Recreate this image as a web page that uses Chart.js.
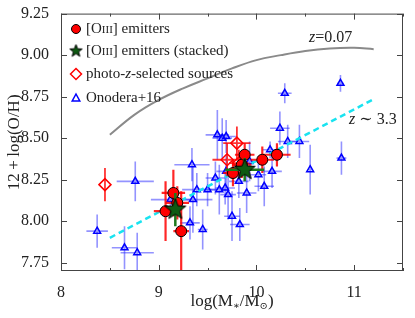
<!DOCTYPE html>
<html>
<head>
<meta charset="utf-8">
<script src="https://cdn.jsdelivr.net/npm/chart.js@4.4.1/dist/chart.umd.min.js"></script>
<style>
  html, body { margin: 0; padding: 0; background: #fff; }
  canvas { display: block; }
</style>
</head>
<body>
<canvas id="mzr" width="415" height="318"></canvas>
<script>
// [OIII] emitters (individual)
const oiiiX = [9.07, 9.15, 9.19, 9.23, 9.76, 9.85, 9.88, 10.06, 10.21];
const oiiiY = [8.06, 8.17, 8.11, 7.94, 8.29, 8.34, 8.40, 8.37, 8.40];
const oiiiXErr = [0.12, 0.12, 0.12, 0.08, 0.10, 0.10, 0.10, 0.12, 0.14];
const oiiiYErr = [0.18, 0.14, 0.10, 0.24, 0.08, 0.08, 0.07, 0.08, 0.07];

// [OIII] emitters (stacked)
const stackX = [9.17, 9.88];
const stackY = [8.07, 8.31];
const stackXErr = [0.03, 0.20];
const stackYErr = [0.10, 0.07];

// photo-z selected sources
const photoX = [8.45, 9.70, 9.80, 9.82];
const photoY = [8.22, 8.37, 8.47, 8.35];
const photoXErr = [0.00, 0.15, 0.14, 0.10];
const photoYErr = [0.10, 0.10, 0.10, 0.08];

// Onodera+16
const onoX = [8.37, 8.65, 8.78, 8.76, 9.12, 9.34, 9.35, 9.39, 9.32, 9.45, 9.50, 9.58,
              9.60, 9.65, 9.69, 9.62, 9.68, 9.71, 9.69, 9.75, 9.82, 9.83, 9.90, 9.93,
              10.02, 10.08, 10.14, 10.16, 10.24, 10.29, 10.32, 10.44, 10.55, 10.86, 10.87];
const onoY = [7.94, 7.84, 7.81, 8.24, 8.13, 8.34, 8.13, 8.19, 7.99, 7.95, 8.19, 8.26,
              8.52, 8.50, 8.51, 8.19, 8.20, 8.16, 8.30, 8.03, 8.24, 7.98, 8.17, 8.36,
              8.28, 8.21, 8.43, 8.30, 8.56, 8.77, 8.48, 8.48, 8.31, 8.83, 8.38];
const onoXErr = [0.11, 0.13, 0.17, 0.19, 0.20, 0.18, 0.20, 0.15, 0.10, 0.05, 0.10, 0.10,
                 0.12, 0.10, 0.10, 0.10, 0.10, 0.08, 0.10, 0.08, 0.10, 0.10, 0.10, 0.10,
                 0.08, 0.10, 0.08, 0.10, 0.10, 0.07, 0.10, 0.10, 0.02, 0.03, 0.05];
const onoYErr = [0.10, 0.13, 0.12, 0.12, 0.05, 0.10, 0.20, 0.10, 0.10, 0.12, 0.10, 0.10,
                 0.15, 0.12, 0.10, 0.15, 0.10, 0.15, 0.10, 0.15, 0.10, 0.10, 0.12, 0.12,
                 0.10, 0.12, 0.05, 0.10, 0.10, 0.06, 0.10, 0.10, 0.15, 0.05, 0.10];

// MZ relation curves
const localX = [8.5, 8.75, 9.0, 9.25, 9.5, 9.75, 10.0, 10.25, 10.5, 10.75, 11.0, 11.2];
const localY = [8.52, 8.64, 8.73, 8.80, 8.86, 8.92, 8.97, 9.00, 9.025, 9.04, 9.044, 9.036];
const highzX = [8.5, 11.2];
const highzY = [7.90, 8.735];

const xTicks = [8, 9, 10, 11];
const xMinor = [8.5, 9.5, 10.5, 11.5];
const yTicks = [7.75, 8.00, 8.25, 8.50, 8.75, 9.00, 9.25];

const serif = "'Liberation Serif', 'DejaVu Serif', serif";
const pts = (xs, ys) => xs.map((v, i) => ({ x: v, y: ys[i] }));

function makeStar(r, fill) {
  const c = document.createElement('canvas');
  const s = Math.ceil(r * 2 + 4);
  c.width = s; c.height = s;
  const g = c.getContext('2d');
  g.beginPath();
  for (let k = 0; k < 10; k++) {
    const rr = k % 2 === 0 ? r : r * 0.42;
    const a = -Math.PI / 2 + k * Math.PI / 5;
    g.lineTo(s / 2 + rr * Math.cos(a), s / 2 + rr * Math.sin(a));
  }
  g.closePath();
  g.fillStyle = fill;
  g.fill();
  g.lineWidth = 1;
  g.strokeStyle = '#000';
  g.stroke();
  return c;
}
const bigStar = makeStar(11, '#0e5a12');
const smallStar = makeStar(6.5, '#0e5a12');

const errorBars = {
  id: 'errorBars',
  beforeDatasetDraw(chart, args) {
    const ds = chart.data.datasets[args.index];
    if (!ds.errX) return;
    const { ctx, chartArea: a, scales: { x, y } } = chart;
    ctx.save();
    ctx.beginPath();
    ctx.rect(a.left, a.top, a.right - a.left, a.bottom - a.top);
    ctx.clip();
    ctx.strokeStyle = ds.errColor;
    ctx.lineWidth = ds.errWidth;
    ds.data.forEach((p, i) => {
      const px = x.getPixelForValue(p.x), py = y.getPixelForValue(p.y);
      ctx.beginPath();
      if (ds.errX[i] > 0) {
        ctx.moveTo(x.getPixelForValue(p.x - ds.errX[i]), py);
        ctx.lineTo(x.getPixelForValue(p.x + ds.errX[i]), py);
      }
      ctx.moveTo(px, y.getPixelForValue(p.y - ds.errY[i]));
      ctx.lineTo(px, y.getPixelForValue(p.y + ds.errY[i]));
      ctx.stroke();
    });
    ctx.restore();
  }
};

function drawRuns(ctx, runs, x, y) {
  let cx = x;
  runs.forEach(r => {
    ctx.font = r.font;
    ctx.fillText(r.t, cx, y + (r.dy || 0));
    cx += ctx.measureText(r.t).width;
  });
}
function runsWidth(ctx, runs) {
  return runs.reduce((w, r) => { ctx.font = r.font; return w + ctx.measureText(r.t).width; }, 0);
}

const decor = {
  id: 'decor',
  afterDraw(chart) {
    const { ctx, chartArea: a, scales: { x, y } } = chart;
    ctx.save();
    // frame and inward ticks
    ctx.strokeStyle = '#444';
    ctx.lineWidth = 1;
    ctx.strokeRect(a.left + 0.5, a.top + 0.5, a.right - a.left - 1, a.bottom - a.top - 1);
    ctx.beginPath();
    xTicks.forEach(v => {
      const px = Math.round(x.getPixelForValue(v)) + 0.5;
      ctx.moveTo(px, a.bottom); ctx.lineTo(px, a.bottom - 6);
      ctx.moveTo(px, a.top); ctx.lineTo(px, a.top + 6);
    });
    xMinor.forEach(v => {
      const px = Math.round(x.getPixelForValue(v)) + 0.5;
      ctx.moveTo(px, a.bottom); ctx.lineTo(px, a.bottom - 3);
      ctx.moveTo(px, a.top); ctx.lineTo(px, a.top + 3);
    });
    yTicks.forEach(v => {
      const py = Math.round(y.getPixelForValue(v)) + 0.5;
      ctx.moveTo(a.left, py); ctx.lineTo(a.left + 6, py);
      ctx.moveTo(a.right, py); ctx.lineTo(a.right - 6, py);
    });
    ctx.stroke();

    ctx.fillStyle = '#222';
    ctx.textBaseline = 'middle';
    ctx.textAlign = 'left';

    // legend
    const lx = 76, tx = 86;
    const rows = [29, 51, 74, 98];
    ctx.beginPath();
    ctx.arc(lx, rows[0], 4.5, 0, Math.PI * 2);
    ctx.fillStyle = '#ff0000'; ctx.fill();
    ctx.strokeStyle = '#000'; ctx.lineWidth = 1; ctx.stroke();
    ctx.drawImage(smallStar, lx - smallStar.width / 2, rows[1] - smallStar.height / 2);
    ctx.beginPath();
    ctx.moveTo(lx, rows[2] - 5.5); ctx.lineTo(lx + 5.5, rows[2]);
    ctx.lineTo(lx, rows[2] + 5.5); ctx.lineTo(lx - 5.5, rows[2]); ctx.closePath();
    ctx.strokeStyle = '#ff0000'; ctx.lineWidth = 1.5; ctx.stroke();
    ctx.beginPath();
    ctx.moveTo(lx, rows[3] - 4); ctx.lineTo(lx + 3.8, rows[3] + 3); ctx.lineTo(lx - 3.8, rows[3] + 3); ctx.closePath();
    ctx.strokeStyle = '#0000ff'; ctx.lineWidth = 1.5; ctx.stroke();

    ctx.fillStyle = '#222';
    const f15 = `15px ${serif}`, f11 = `11px ${serif}`, i15 = `italic 15px ${serif}`;
    drawRuns(ctx, [{ t: '[O', font: f15 }, { t: 'III', font: f11, dy: 1 }, { t: '] emitters', font: f15 }], tx, rows[0]);
    drawRuns(ctx, [{ t: '[O', font: f15 }, { t: 'III', font: f11, dy: 1 }, { t: '] emitters (stacked)', font: f15 }], tx, rows[1]);
    drawRuns(ctx, [{ t: 'photo-', font: f15 }, { t: 'z', font: i15 }, { t: '-selected sources', font: f15 }], tx, rows[2]);
    drawRuns(ctx, [{ t: 'Onodera+16', font: f15 }], tx, rows[3]);

    // curve labels
    const f16 = `16px ${serif}`, i16 = `italic 16px ${serif}`;
    drawRuns(ctx, [{ t: 'z', font: i16 }, { t: '=0.07', font: f16 }], 309, 38);
    drawRuns(ctx, [{ t: 'z', font: i16 }, { t: ' \u223C 3.3', font: f16 }], 349, 120);

    // x title with subscripts
    const f17 = `17px ${serif}`, f10 = `10px ${serif}`;
    const xt = [{ t: 'log(M', font: f17 }, { t: '\u2217', font: f10, dy: 4 }, { t: '/M', font: f17 }, { t: '\u2299', font: f10, dy: 4 }, { t: ')', font: f17 }];
    const w = runsWidth(ctx, xt);
    drawRuns(ctx, xt, (a.left + a.right) / 2 - w / 2, 302);

    // y title
    ctx.translate(15, (a.top + a.bottom) / 2);
    ctx.rotate(-Math.PI / 2);
    ctx.textAlign = 'center';
    ctx.font = f17;
    ctx.fillText('12\u2009+\u2009log(O/H)', 0, 0);
    ctx.restore();
  }
};

new Chart(document.getElementById('mzr'), {
  type: 'scatter',
  data: {
    datasets: [
      {
        label: '[OIII] emitters (stacked)', data: pts(stackX, stackY),
        errX: stackXErr, errY: stackYErr, errColor: '#1d7a1d', errWidth: 2.5,
        pointStyle: bigStar, pointRadius: 11
      },
      {
        label: '[OIII] emitters', data: pts(oiiiX, oiiiY),
        errX: oiiiXErr, errY: oiiiYErr, errColor: 'rgba(255,0,0,0.85)', errWidth: 2.2,
        pointStyle: 'circle', pointRadius: 5.5, backgroundColor: '#ff0000',
        borderColor: '#000', borderWidth: 1
      },
      {
        label: 'photo-z-selected sources', data: pts(photoX, photoY),
        errX: photoXErr, errY: photoYErr, errColor: 'rgba(255,0,0,0.8)', errWidth: 1.8,
        pointStyle: 'rectRot', pointRadius: 6, backgroundColor: 'rgba(255,255,255,0)',
        borderColor: '#ff0000', borderWidth: 1.5
      },
      {
        label: 'z~3.3', data: pts(highzX, highzY), showLine: true,
        borderColor: '#19e3f0', borderWidth: 2.5, borderDash: [6, 4], pointRadius: 0
      },
      {
        label: 'z=0.07', data: pts(localX, localY), showLine: true,
        borderColor: '#8a8a8a', borderWidth: 2, pointRadius: 0, tension: 0.4
      },
      {
        label: 'Onodera+16', data: pts(onoX, onoY),
        errX: onoXErr, errY: onoYErr, errColor: 'rgba(40,40,255,0.5)', errWidth: 1.6,
        pointStyle: 'triangle', pointRadius: 4, backgroundColor: 'rgba(255,255,255,0)',
        borderColor: '#0000ff', borderWidth: 1.5
      }
    ]
  },
  options: {
    responsive: false,
    animation: false,
    events: [],
    layout: { padding: { top: 13, right: 7, left: 0, bottom: 0 } },
    plugins: { legend: { display: false }, tooltip: { enabled: false } },
    scales: {
      x: {
        min: 8, max: 11.5,
        afterFit(s) { s.height = 47; },
        afterBuildTicks(s) { s.ticks = xTicks.map(v => ({ value: v })); },
        grid: { display: false }, border: { display: false },
        ticks: { color: '#222', padding: 4, maxRotation: 0, font: { family: serif, size: 16 }, callback: v => String(v) }
      },
      y: {
        min: 7.7, max: 9.25,
        afterFit(s) { s.width = 61; },
        afterBuildTicks(s) { s.ticks = yTicks.map(v => ({ value: v })); },
        grid: { display: false }, border: { display: false },
        ticks: { color: '#222', padding: 4, font: { family: serif, size: 16 }, callback: v => Number(v).toFixed(2) }
      }
    }
  },
  plugins: [errorBars, decor]
});
</script>
</body>
</html>
